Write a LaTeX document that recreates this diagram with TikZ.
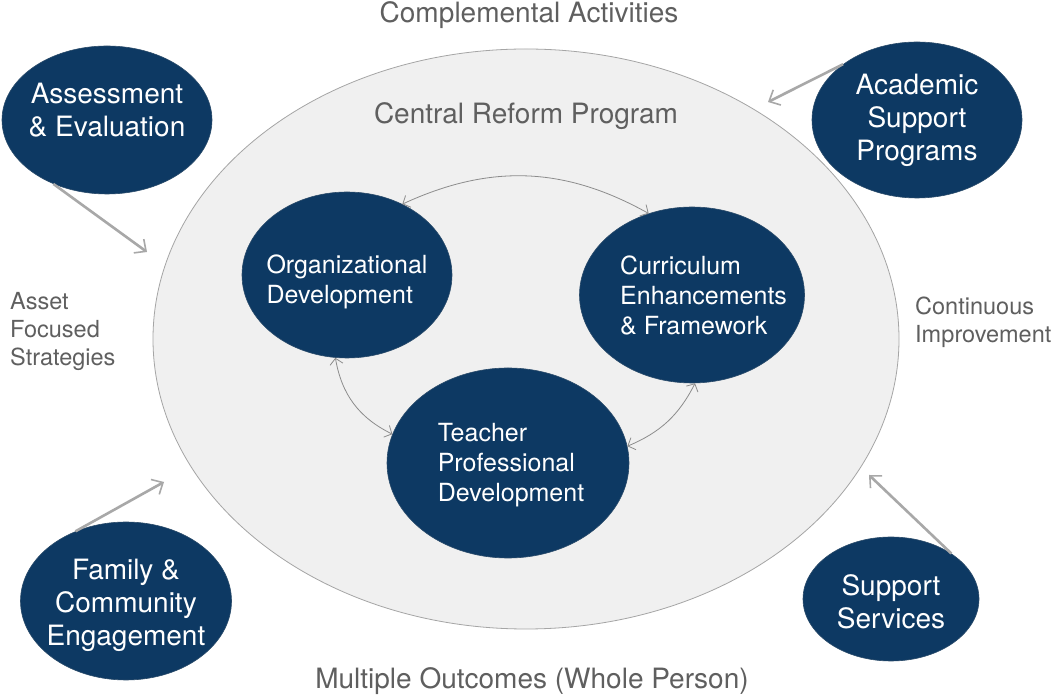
\documentclass[tikz,border=0pt]{standalone}
\usepackage{fontspec}
\setmainfont{TeX Gyre Heros}
\usetikzlibrary{shapes.geometric,arrows.meta}
\definecolor{hubblue}{RGB}{13,57,99}
\definecolor{ringfill}{RGB}{240,240,240}
\definecolor{ringline}{RGB}{165,165,165}
\definecolor{labelgray}{RGB}{95,95,95}
\definecolor{arrowgray}{RGB}{168,168,168}
\definecolor{linkgray}{RGB}{140,140,140}

\begin{document}
\begin{tikzpicture}[x=1pt, y=1pt,
        hub/.style={ellipse, fill=hubblue, draw=hubblue!75!gray, line width=0.6pt, inner sep=-30pt, text=white},
        outertext/.style={text=white, inner sep=0pt, font=\fontsize{28}{33}\selectfont, align=center},
        innertext/.style={text=white, inner sep=0pt, font=\fontsize{25}{30}\selectfont, align=left},
        outer/.style={hub, outertext, inner sep=-30pt},
        inner/.style={hub, innertext, inner sep=-30pt},
        note/.style={text=labelgray, inner sep=0pt},
        feed/.style={draw=arrowgray, line width=2.6pt, -{Straight Barb[length=9pt, width=17pt, line width=1.6pt]}},
        link/.style={draw=linkgray, line width=0.8pt, {Straight Barb[length=6pt, width=13pt]}-{Straight Barb[length=6pt, width=13pt]}}]
        \useasboundingbox (0,0) rectangle (1053,696);
        \fill[white] (0,0) rectangle (1053,696);

        % central ring
        \node[ellipse, fill=ringfill, draw=ringline, line width=0.8pt, minimum width=746pt, minimum height=580pt, inner sep=0pt] (crp) at (526,357) {};
        \node[note, font=\fontsize{28}{33}\selectfont, anchor=base] (crplabel) at (526,572) {Central Reform Program};

        % labels round the ring
        \node[note, font=\fontsize{28}{33}\selectfont, anchor=base] (ca) at (529,673) {Complemental Activities};
        \node[note, font=\fontsize{28}{33}\selectfont] (mo) at (532,15) {Multiple Outcomes (Whole Person)};
        \node[note, font=\fontsize{23.5}{28}\selectfont, align=left, anchor=west] (afs) at (10,364) {Asset\\Focused\\Strategies};
        \node[note, font=\fontsize{23.5}{28}\selectfont, align=left, anchor=west] (ci) at (915,374) {Continuous\\Improvement};

        % outer programs
        \node[hub, minimum width=210pt, minimum height=148pt] (ae) at (107,576) {};
        \node[outertext] (aetext) at ([yshift=10pt] ae) {Assessment\\\& Evaluation};
        \node[outer, minimum width=210pt, minimum height=156pt] (asp) at (917,576) {Academic\\Support\\Programs};
        \node[hub, minimum width=211pt, minimum height=158pt] (fce) at (126,95) {};
        \node[outertext] (fcetext) at ([yshift=-4pt] fce) {Family \&\\Community\\Engagement};
        \node[hub, minimum width=176pt, minimum height=124pt] (ss) at (891,97) {};
        \node[outertext] (sstext) at ([yshift=-3pt] ss) {Support\\Services};

        % core of the reform
        \node[hub, minimum width=210pt, minimum height=166pt] (od) at (347,421) {};
        \node[innertext] (odtext) at ([yshift=-7pt] od) {Organizational\\Development};
        \node[hub, minimum width=225pt, minimum height=176pt] (cef) at (692,401) {};
        \node[innertext, anchor=west] (ceftext) at ([xshift=-72pt] cef) {Curriculum\\Enhancements\\\& Framework};
        \node[hub, minimum width=242pt, minimum height=190pt] (tpd) at (508,233) {};
        \node[innertext] (tpdtext) at ([xshift=3pt, yshift=-2pt] tpd) {Teacher\\Professional\\Development};

        % feeds into the ring
        \coordinate (aetip) at (147,444);
        \coordinate (asptip) at (768,594);
        \coordinate (fcetip) at (164,214);
        \coordinate (sstip) at (869,221);
        \draw[feed] (ae.-130) -- (aetip);
        \draw[feed] (asp.143) -- (asptip);
        \draw[feed] (fce.126) -- (fcetip);
        \draw[feed] (ss.37) -- (sstip);

        % links inside the ring
        \draw[link] (od.52) to[bend left=27] (cef.118);
        \draw[link] (od.-98) to[bend right=27] (tpd.166);
        \draw[link] (tpd.8) to[bend right=20] (cef.-88);
    \end{tikzpicture}
\end{document}
